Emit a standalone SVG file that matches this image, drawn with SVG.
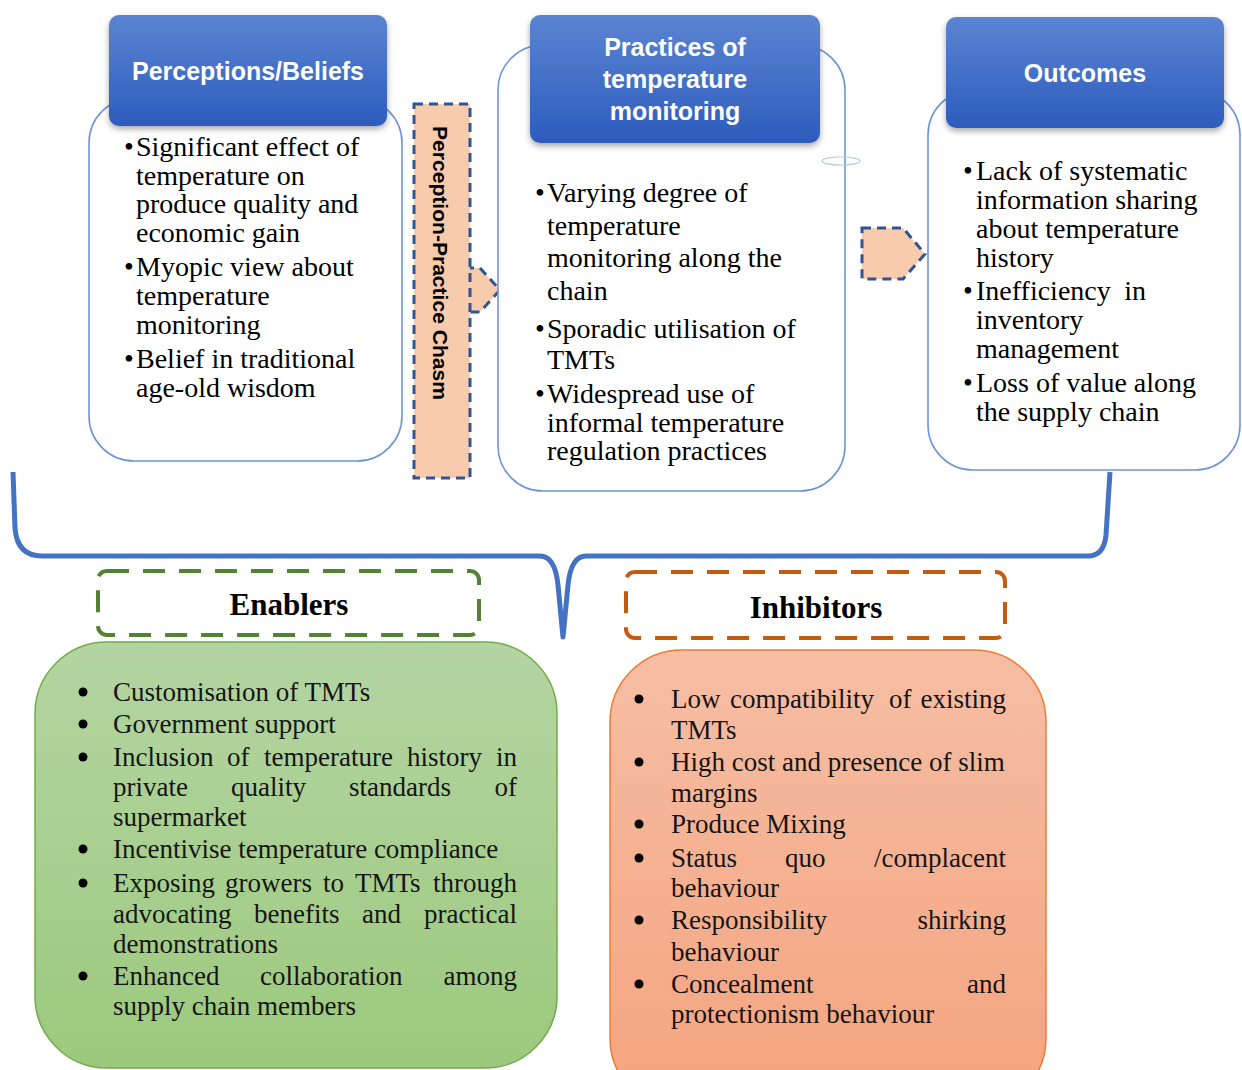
<svg xmlns="http://www.w3.org/2000/svg" width="1242" height="1070" viewBox="0 0 1242 1070">
  <defs>
    <linearGradient id="hdr" x1="0" y1="0" x2="0" y2="1">
      <stop offset="0" stop-color="#5b84d2"/>
      <stop offset="1" stop-color="#2d5cbd"/>
    </linearGradient>
    <linearGradient id="grn" x1="0" y1="0" x2="0" y2="1">
      <stop offset="0" stop-color="#b4d5a3"/>
      <stop offset="1" stop-color="#9cc97d"/>
    </linearGradient>
    <linearGradient id="org" x1="0" y1="0" x2="0" y2="1">
      <stop offset="0" stop-color="#f6bea4"/>
      <stop offset="1" stop-color="#f4a37e"/>
    </linearGradient>
    <filter id="shadow" x="-10%" y="-10%" width="120%" height="130%">
      <feDropShadow dx="0" dy="3" stdDeviation="3" flood-color="#000" flood-opacity="0.35"/>
    </filter>
  </defs>
  <style>
    .frame { fill: #fff; stroke: #6f95d6; stroke-width: 1.6; }
    .hdr { fill: url(#hdr); filter: url(#shadow); }
    .hdrtxt { font-family: "Liberation Sans", Arial, sans-serif; font-weight: bold; font-size: 25px; fill: #fff; text-anchor: middle; }
    .body { font-family: "Liberation Serif", "Times New Roman", serif; font-size: 28px; fill: #000; }
    .list { font-family: "Liberation Serif", "Times New Roman", serif; font-size: 27px; fill: #151515; }
    .dot { fill: #000; }
    .end { text-anchor: end; }
    .chasm { fill: #f8cbad; stroke: #2f5597; stroke-width: 3; stroke-dasharray: 9 6; }
    .title { font-family: "Liberation Serif", "Times New Roman", serif; font-weight: bold; font-size: 31px; fill: #000; text-anchor: middle; }
  </style>

  <rect width="1242" height="1070" fill="#fff"/>

  <!-- connectors: chasm arrows and the brace -->
  <g id="connectors">
    <polygon class="chasm" points="450,268 480,268 500,290 480,312 450,312"/>
    <polygon class="chasm" points="862,228 903,228 925,254 903,279 862,279"/>
    <path d="M13,472 L15,528 Q17,556 42,556 L540,556 Q555,556 558,585 L563,637 L568,585 Q571,556 586,556 L1088,556 Q1104,556 1106,535 L1110,472"
          fill="none" stroke="#4472c4" stroke-width="5" stroke-linejoin="round"/>
  </g>

  <!-- Perceptions / Beliefs -->
  <g id="perceptions">
    <rect class="frame" x="89" y="98" width="313" height="363" rx="45"/>
    <rect class="hdr" x="109" y="15" width="278" height="111" rx="10"/>
    <text class="hdrtxt" x="248" y="80">Perceptions/Beliefs</text>
    <g class="body">
      <text x="124" y="156">•</text><text x="136" y="156">Significant effect of</text>
      <text x="136" y="185">temperature on</text>
      <text x="136" y="213">produce quality and</text>
      <text x="136" y="242">economic gain</text>
      <text x="124" y="276">•</text><text x="136" y="276">Myopic view about</text>
      <text x="136" y="305">temperature</text>
      <text x="136" y="334">monitoring</text>
      <text x="124" y="368">•</text><text x="136" y="368">Belief in traditional</text>
      <text x="136" y="397">age-old wisdom</text>
    </g>
  </g>

  <!-- Perception-Practice Chasm -->
  <g id="chasm">
    <rect class="chasm" x="414" y="104" width="56" height="374"/>
    <text x="0" y="0" transform="translate(433,126) rotate(90)" font-family="Liberation Sans, Arial, sans-serif" font-weight="bold" font-size="20" fill="#000" textLength="274" lengthAdjust="spacingAndGlyphs">Perception-Practice Chasm</text>
  </g>

  <!-- Practices of temperature monitoring -->
  <g id="practices">
    <rect class="frame" x="498" y="45" width="347" height="446" rx="45"/>
    <rect class="hdr" x="530" y="15" width="290" height="128" rx="10"/>
    <text class="hdrtxt" x="675" y="56">Practices of</text>
    <text class="hdrtxt" x="675" y="88">temperature</text>
    <text class="hdrtxt" x="675" y="120">monitoring</text>
    <g class="body">
      <text x="535" y="202">•</text><text x="547" y="202">Varying degree of</text>
      <text x="547" y="235">temperature</text>
      <text x="547" y="267">monitoring along the</text>
      <text x="547" y="300">chain</text>
      <text x="535" y="338">•</text><text x="547" y="338">Sporadic utilisation of</text>
      <text x="547" y="369">TMTs</text>
      <text x="535" y="403">•</text><text x="547" y="403">Widespread use of</text>
      <text x="547" y="432">informal temperature</text>
      <text x="547" y="460">regulation practices</text>
    </g>
  </g>

  <!-- Outcomes -->
  <g id="outcomes">
    <rect class="frame" x="928" y="90" width="312" height="380" rx="45"/>
    <rect class="hdr" x="946" y="17" width="278" height="111" rx="10"/>
    <text class="hdrtxt" x="1085" y="82">Outcomes</text>
    <g class="body">
      <text x="963" y="180">•</text><text x="976" y="180">Lack of systematic</text>
      <text x="976" y="209">information sharing</text>
      <text x="976" y="238">about temperature</text>
      <text x="976" y="267">history</text>
      <text x="963" y="300">•</text><text x="976" y="300">Inefficiency</text><text x="1146" y="300" class="end">in</text>
      <text x="976" y="329">inventory</text>
      <text x="976" y="358">management</text>
      <text x="963" y="392">•</text><text x="976" y="392">Loss of value along</text>
      <text x="976" y="421">the supply chain</text>
    </g>
  </g>

  <!-- small stray ellipse beside the practices frame -->
  <ellipse cx="841" cy="161" rx="19" ry="4" fill="none" stroke="#b8c8e6" stroke-width="1.2"/>

  <!-- Enablers -->
  <g id="enablers-title">
    <rect x="98" y="571" width="381" height="64" rx="9" fill="none" stroke="#548235" stroke-width="4" stroke-dasharray="22 14"/>
    <text class="title" x="289" y="615">Enablers</text>
  </g>
  <g id="enablers">
    <rect x="35" y="642" width="522" height="426" rx="72" fill="url(#grn)" stroke="#70ad47" stroke-width="1.5"/>
    <g class="dot">
      <circle cx="83" cy="692" r="4.5"/>
      <circle cx="83" cy="724" r="4.5"/>
      <circle cx="83" cy="757" r="4.5"/>
      <circle cx="83" cy="849" r="4.5"/>
      <circle cx="83" cy="883" r="4.5"/>
      <circle cx="83" cy="976" r="4.5"/>
    </g>
    <g class="list">
      <text x="113" y="701">Customisation of TMTs</text>
      <text x="113" y="733">Government support</text>
      <text x="113" y="766">Inclusion</text><text x="227" y="766">of</text><text x="264" y="766">temperature</text><text x="407" y="766">history</text><text x="517" y="766" class="end">in</text>
      <text x="113" y="796">private</text><text x="231" y="796">quality</text><text x="349" y="796">standards</text><text x="517" y="796" class="end">of</text>
      <text x="113" y="826">supermarket</text>
      <text x="113" y="858">Incentivise temperature compliance</text>
      <text x="113" y="892">Exposing</text><text x="225" y="892">growers</text><text x="323" y="892">to</text><text x="355" y="892">TMTs</text><text x="517" y="892" class="end">through</text>
      <text x="113" y="923">advocating</text><text x="254" y="923">benefits</text><text x="362" y="923">and</text><text x="517" y="923" class="end">practical</text>
      <text x="113" y="953">demonstrations</text>
      <text x="113" y="985">Enhanced</text><text x="260" y="985">collaboration</text><text x="517" y="985" class="end">among</text>
      <text x="113" y="1015">supply chain members</text>
    </g>
  </g>

  <!-- Inhibitors -->
  <g id="inhibitors-title">
    <rect x="626" y="572" width="379" height="66" rx="9" fill="none" stroke="#c55a11" stroke-width="4" stroke-dasharray="22 14"/>
    <text class="title" x="816" y="618">Inhibitors</text>
  </g>
  <g id="inhibitors">
    <rect x="610" y="650" width="436" height="460" rx="72" fill="url(#org)" stroke="#ed7d31" stroke-width="1.5"/>
    <g class="dot">
      <circle cx="639" cy="699" r="4.5"/>
      <circle cx="639" cy="762" r="4.5"/>
      <circle cx="639" cy="824" r="4.5"/>
      <circle cx="639" cy="858" r="4.5"/>
      <circle cx="639" cy="920" r="4.5"/>
      <circle cx="639" cy="984" r="4.5"/>
    </g>
    <g class="list">
      <text x="671" y="708">Low</text><text x="730" y="708">compatibility</text><text x="889" y="708">of</text><text x="1006" y="708" class="end">existing</text>
      <text x="671" y="739">TMTs</text>
      <text x="671" y="771">High cost and presence of slim</text>
      <text x="671" y="802">margins</text>
      <text x="671" y="833">Produce Mixing</text>
      <text x="671" y="867">Status</text><text x="785" y="867">quo</text><text x="1006" y="867" class="end">/complacent</text>
      <text x="671" y="897">behaviour</text>
      <text x="671" y="929">Responsibility</text><text x="1006" y="929" class="end">shirking</text>
      <text x="671" y="961">behaviour</text>
      <text x="671" y="993">Concealment</text><text x="1006" y="993" class="end">and</text>
      <text x="671" y="1023">protectionism behaviour</text>
    </g>
  </g>
</svg>
